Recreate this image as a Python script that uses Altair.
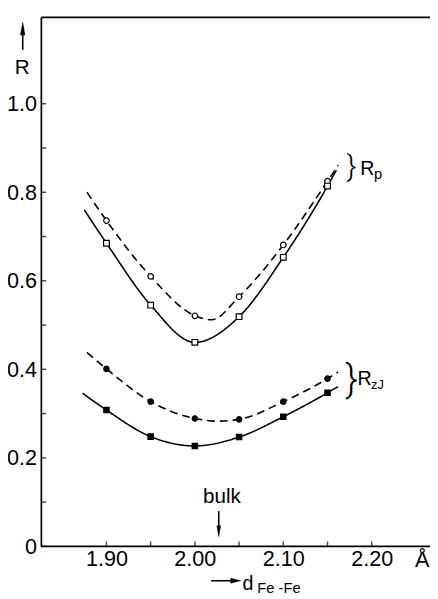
import altair as alt
import pandas as pd

# ---------------- data ----------------
d_points = [1.90, 1.95, 2.00, 2.05, 2.10, 2.15]
rp_dashed_pts = [0.736, 0.610, 0.521, 0.564, 0.681, 0.825]   # open circles
rp_solid_pts = [0.685, 0.545, 0.461, 0.519, 0.653, 0.814]    # open squares
rzj_dashed_pts = [0.401, 0.327, 0.289, 0.287, 0.327, 0.379]  # filled circles
rzj_solid_pts = [0.308, 0.248, 0.227, 0.247, 0.293, 0.347]   # filled squares

# fitted curves (knots)
rp_dashed_curve_x = [1.878, 1.90, 1.95, 2.00, 2.019, 2.05, 2.10, 2.15, 2.162]
rp_dashed_curve_y = [0.800, 0.736, 0.610, 0.521, 0.512, 0.564, 0.681, 0.825, 0.861]
rp_solid_curve_x = [1.875, 1.90, 1.95, 2.00, 2.05, 2.10, 2.15, 2.160]
rp_solid_curve_y = [0.760, 0.685, 0.545, 0.461, 0.519, 0.653, 0.814, 0.850]
rzj_dashed_curve_x = [1.878, 1.90, 1.95, 2.00, 2.025, 2.05, 2.10, 2.15, 2.162]
rzj_dashed_curve_y = [0.438, 0.401, 0.327, 0.289, 0.283, 0.287, 0.327, 0.379, 0.394]
rzj_solid_curve_x = [1.873, 1.90, 1.95, 2.00, 2.05, 2.10, 2.15, 2.162]
rzj_solid_curve_y = [0.346, 0.308, 0.248, 0.227, 0.247, 0.293, 0.347, 0.361]

x_ticks = [1.90, 1.95, 2.00, 2.05, 2.10, 2.15, 2.20]
y_ticks = [0.0, 0.1, 0.2, 0.3, 0.4, 0.5, 0.6, 0.7, 0.8, 0.9, 1.0]
bulk_d = [2.027]
x_range = [1.8264, 2.2659]
y_range = [0.0, 1.195]

# ---------------- layout ----------------
W, H = 396, 539
FONT = "Liberation Sans"
xs = alt.Scale(domain=x_range, nice=False, zero=False)
ys = alt.Scale(domain=y_range, nice=False, zero=False)

x_axis = alt.Axis(
    values=x_ticks,
    labelExpr="(round(datum.value*100) % 10 == 0) ? format(datum.value, '.2f') : ''",
    ticks=False, tickSize=0, domain=False, grid=False,
    labelFont=FONT, labelFontSize=22, labelColor="black", labelPadding=2,
    labelFlush=False, labelOverlap=False, title=None,
)
y_axis = alt.Axis(
    values=y_ticks,
    labelExpr="datum.value == 0 ? '0' : ((round(datum.value*10) % 2 == 0) ? format(datum.value, '.1f') : '')",
    ticks=False, tickSize=0, domain=False, grid=False,
    labelFont=FONT, labelFontSize=22, labelColor="black", labelPadding=5,
    labelFlush=False, labelOverlap=False, title=None,
)

X = lambda f="d:Q": alt.X(f, scale=xs, axis=x_axis)
Y = lambda f="R:Q": alt.Y(f, scale=ys, axis=y_axis)


def curve(xv, yv, dashed):
    df = pd.DataFrame({"d": xv, "R": yv})
    return alt.Chart(df).mark_line(
        color="black", strokeWidth=1.6, interpolate="monotone",
        strokeDash=[8, 5] if dashed else [1, 0],
    ).encode(x=X(), y=Y())


def pts(yv, shape, fill, size):
    df = pd.DataFrame({"d": d_points, "R": yv})
    return alt.Chart(df).mark_point(
        shape=shape, filled=True, fill=fill, stroke="black",
        strokeWidth=1.2, size=size, opacity=1,
    ).encode(x=X(), y=Y())


one = pd.DataFrame({"k": [0]})


def rule(**kw):
    return alt.Chart(one).mark_rule(color="black", strokeWidth=1.6).encode(**kw)


def text(t, x, y, size, align="left", baseline="alphabetic", font=FONT, weight="normal"):
    return alt.Chart(one).mark_text(
        text=t, fontSize=size, font=font, align=align, baseline=baseline,
        color="black", fontWeight=weight,
    ).encode(x=alt.value(x), y=alt.value(y))


def head(path, x, y, size, data=one):
    return alt.Chart(data).mark_point(
        shape=path, filled=True, fill="black", stroke="black", strokeWidth=0.5,
        size=size, opacity=1,
    ).encode(x=x, y=alt.value(y))


UP = "M0,-1L0.35,1L-0.35,1Z"
DOWN = "M0,1L0.35,-1L-0.35,-1Z"
RIGHT = "M1,0L-1,0.5L-1,-0.5Z"

x_edge = pd.DataFrame({"d": x_range[:1]})
y_edges = pd.DataFrame({"R": y_range})
bulk_df = pd.DataFrame({"d": bulk_d})
xt_df = pd.DataFrame({"d": x_ticks})
yt_df = pd.DataFrame({"R": y_ticks})

layers = [
    # frame: left axis line, bottom axis line and top line
    alt.Chart(x_edge).mark_rule(color="black", strokeWidth=1.7).encode(x=X()),
    alt.Chart(y_edges).mark_rule(color="black", strokeWidth=1.7).encode(y=Y()),
    # inward ticks
    alt.Chart(xt_df).mark_tick(color="black", orient="vertical", size=5, thickness=1.5).encode(
        x=X(), y=alt.value(H - 2.5)),
    alt.Chart(yt_df).mark_tick(color="black", orient="horizontal", size=5, thickness=1.5).encode(
        y=Y(), x=alt.value(2.5)),
    curve(rp_dashed_curve_x, rp_dashed_curve_y, True),
    curve(rp_solid_curve_x, rp_solid_curve_y, False),
    curve(rzj_dashed_curve_x, rzj_dashed_curve_y, True),
    curve(rzj_solid_curve_x, rzj_solid_curve_y, False),
    pts(rp_dashed_pts, "circle", "white", 32),
    pts(rp_solid_pts, "square", "white", 34),
    pts(rzj_dashed_pts, "circle", "black", 30),
    pts(rzj_solid_pts, "square", "black", 30),
    # y title: arrow + R
    rule(x=alt.value(-19), y=alt.value(11), y2=alt.value(33)),
    head(UP, alt.value(-19), 11.5, 169),
    text("R", -19.5, 58, 21, align="center"),
    # bulk marker
    alt.Chart(bulk_df).mark_rule(color="black", strokeWidth=1.6).encode(
        x=X(), y=alt.value(503), y2=alt.value(521)),
    head(DOWN, X(), 523.5, 121, data=bulk_df),
    text("bulk", 184, 495, 21, align="center"),
    # x title
    rule(x=alt.value(173), x2=alt.value(196), y=alt.value(574)),
    head(RIGHT, alt.value(198), 574, 100),
    text("d", 205, 583, 20),
    text("Fe -Fe", 220, 586.5, 15),
    text("Å", 388, 560, 22, align="center"),
    # braces and series labels
    text("}", 316, 152.5, 31, align="center", baseline="middle", font="Roboto", weight=300),
    text("R", 325, 161, 20),
    text("p", 339, 165, 15),
    text("}", 316, 369.5, 39, align="center", baseline="middle", font="Roboto", weight=300),
    text("R", 322, 375, 20),
    text("zJ", 336, 379, 13),
]

chart = alt.layer(*layers).properties(
    width=W, height=H,
    padding={"left": 34, "top": 4, "right": 0, "bottom": 48},
    autosize=alt.AutoSizeParams(type="none"),
    background="white",
).configure_view(stroke=None)

chart.save("out.html", embed_options={"renderer": "svg", "actions": False})
